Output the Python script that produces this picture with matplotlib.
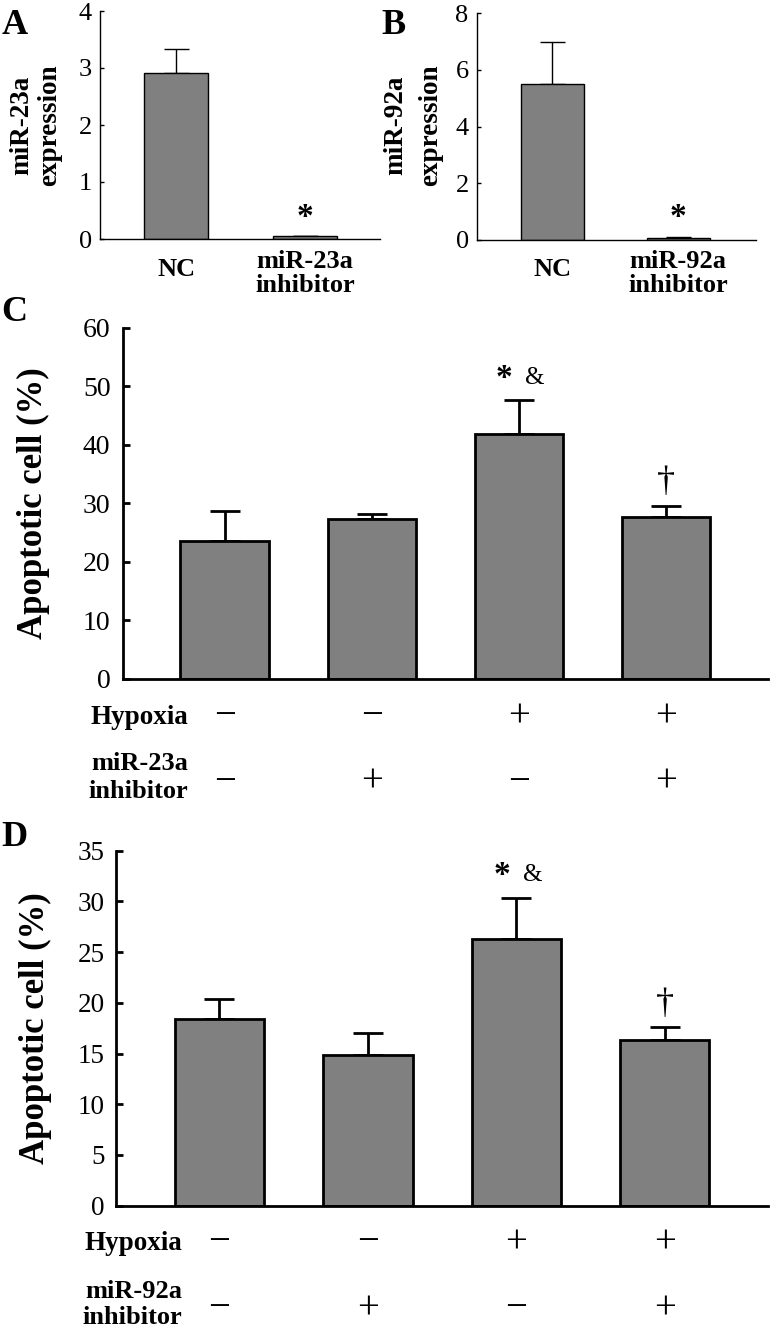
import matplotlib
matplotlib.use("Agg")
import matplotlib.pyplot as plt
import matplotlib.transforms as mtransforms

plt.rcParams['font.family'] = ['Liberation Serif', 'DejaVu Serif']

# ---------------- data ----------------
a_labels = ["NC", "miR-23a\ninhibitor"]
a_values = [2.91, 0.05]
a_errors = [0.43, 0.01]

b_labels = ["NC", "miR-92a\ninhibitor"]
b_values = [5.50, 0.07]
b_errors = [1.48, 0.02]

c_values = [23.5, 27.35, 41.8, 27.6]
c_errors = [5.2, 0.85, 5.9, 2.0]
c_hypoxia = ["−", "−", "+", "+"]
c_inhib = ["−", "+", "−", "+"]

d_values = [18.4, 14.86, 26.3, 16.3]
d_errors = [2.0, 2.2, 4.0, 1.35]
d_hypoxia = ["−", "−", "+", "+"]
d_inhib = ["−", "+", "−", "+"]

W, H = 771, 1326
fig = plt.figure(figsize=(W / 100, H / 100), dpi=100)

def fx(px):
    return px / W

def fy(py):
    return 1 - py / H

def axes_px(left, right, top, bottom):
    return fig.add_axes([fx(left), fy(bottom), (right - left) / W, (bottom - top) / H])

GRAY = "#808080"

def style_axes(ax, lw, tsize, pad, tlen):
    for s in ("top", "right"):
        ax.spines[s].set_visible(False)
    ax.spines["left"].set_linewidth(lw)
    ax.spines["bottom"].set_linewidth(lw)
    ax.tick_params(axis="y", direction="in", length=tlen, width=lw, labelsize=tsize, pad=pad)
    ax.tick_params(axis="x", length=0)

# ---------------- small panels ----------------
def small_panel(ax, values, errors, labels2, ymax, yticks, xlim, star_y, yl_x, ylab1, letter, letter_x):
    x = list(range(len(values)))
    ax.bar(x, values, width=0.5, color=GRAY, edgecolor="black", linewidth=1.0, zorder=2)
    ax.errorbar(x, values, yerr=[[0] * len(values), errors], fmt="none",
                ecolor="black", elinewidth=1.0, capsize=9, capthick=1.0, zorder=1)
    ax.set_xlim(*xlim)
    ax.set_ylim(0, ymax)
    ax.set_yticks(yticks)
    style_axes(ax, 1.0, 19, 6, 3)
    ax.set_xticks(x)
    ax.set_xticklabels([])
    ax.text(1, star_y, "*", ha="center", va="center", fontsize=24, fontweight="bold")
    t = mtransforms.blended_transform_factory(ax.transData, fig.transFigure)
    ax.text(0, fy(270), "NC", transform=t, ha="center", va="center", fontsize=19, fontweight="bold")
    ax.text(1, fy(262), labels2[0], transform=t, ha="center", va="center", fontsize=19, fontweight="bold")
    ax.text(1, fy(286), labels2[1], transform=t, ha="center", va="center", fontsize=19, fontweight="bold")
    fig.text(fx(yl_x[0]), fy(125), ylab1, rotation=90, ha="center", va="center", fontsize=19.5, fontweight="bold")
    fig.text(fx(yl_x[1]), fy(125), "expression", rotation=90, ha="center", va="center", fontsize=19.5, fontweight="bold")
    fig.text(fx(letter_x), fy(26), letter, ha="left", va="center", fontsize=26, fontweight="bold")

axA = axes_px(100, 380, 11, 239)
small_panel(axA, a_values, a_errors, a_labels[1].split("\n"), 4, [0, 1, 2, 3, 4],
            (-0.59, 1.58), 0.37, (22, 50), "miR-23a", "A", 2)

axB = axes_px(477, 756, 13, 240)
small_panel(axB, b_values, b_errors, b_labels[1].split("\n"), 8, [0, 2, 4, 6, 8],
            (-0.60, 1.62), 0.78, (396, 431), "miR-92a", "B", 381)

# ---------------- big panels ----------------
def big_panel(ax, values, errors, hyp, inh, ymax, yticks, xlim, row_px, label2, letter, letter_y,
              ylabel_x, star_y, dag_y, tsize, tpad, name_right):
    x = list(range(len(values)))
    ax.bar(x, values, width=0.6, color=GRAY, edgecolor="black", linewidth=2.0, zorder=2)
    ax.errorbar(x, values, yerr=[[0] * len(values), errors], fmt="none",
                ecolor="black", elinewidth=2.0, capsize=11, capthick=2.0, zorder=1)
    ax.set_xlim(*xlim)
    ax.set_ylim(0, ymax)
    ax.set_yticks(yticks)
    style_axes(ax, 2.0, tsize, tpad, 5)
    ax.set_xticks(x)
    ax.set_xticklabels([])
    ax.set_ylabel("Apoptotic cell (%)", fontsize=25, fontweight="bold")
    ax.yaxis.set_label_coords(fx(ylabel_x), 0.5,
                              transform=mtransforms.blended_transform_factory(fig.transFigure, ax.transAxes))
    ax.text(1.90, star_y, "*", ha="center", va="center", fontsize=24, fontweight="bold")
    ax.text(2.11, star_y, "&", ha="center", va="center", fontsize=18)
    ax.text(3.0, dag_y, "†", ha="center", va="center", fontsize=26)
    t = mtransforms.blended_transform_factory(ax.transData, fig.transFigure)
    r1, r2, l2a, l2b = row_px
    for i in x:
        ax.text(i, fy(r1), hyp[i], transform=t, ha="center", va="center", fontsize=28)
        ax.text(i, fy(r2), inh[i], transform=t, ha="center", va="center", fontsize=28)
    fig.text(fx(name_right), fy(r1), "Hypoxia", ha="right", va="center", fontsize=19.5, fontweight="bold")
    fig.text(fx(name_right), fy(l2a), label2, ha="right", va="center", fontsize=19, fontweight="bold")
    fig.text(fx(name_right), fy(l2b), "inhibitor", ha="right", va="center", fontsize=19, fontweight="bold")
    fig.text(fx(1), fy(letter_y), letter, ha="left", va="center", fontsize=26, fontweight="bold")

axC = axes_px(123, 768, 327.7, 679)
big_panel(axC, c_values, c_errors, c_hypoxia, c_inhib, 60, [0, 10, 20, 30, 40, 50, 60],
          (-0.690, 3.692), (717, 782, 764, 791), "miR-23a", "C", 312, 50, 51.4, 33.5, 20, 9, 188)

axD = axes_px(116, 768, 850.7, 1205.7)
big_panel(axD, d_values, d_errors, d_hypoxia, d_inhib, 35, [0, 5, 10, 15, 20, 25, 30, 35],
          (-0.697, 3.694), (1243, 1309, 1291, 1317), "miR-92a", "D", 837, 52, 32.6, 19.8, 19.5, 8, 182)

fig.savefig("out.png", dpi=100)
